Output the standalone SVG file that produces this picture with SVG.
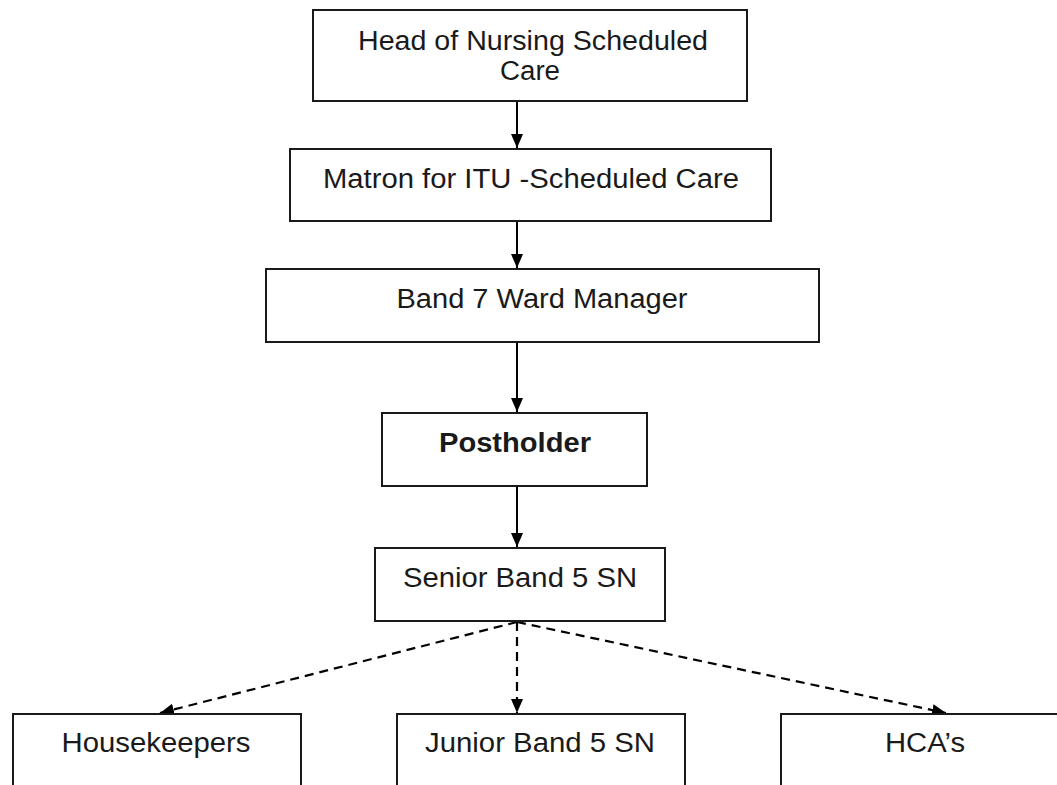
<svg xmlns="http://www.w3.org/2000/svg" width="1057" height="785" viewBox="0 0 1057 785">
  <style>
    .box { fill: #ffffff; stroke: #1a1a1a; stroke-width: 2; }
    .lbl { font-family: "Liberation Sans", Arial, sans-serif; font-size: 27px; fill: #1a1a1a; text-anchor: middle; }
    .bold { font-weight: bold; }
    .solid { stroke: #000; stroke-width: 2; fill: none; }
    .dash { stroke: #000; stroke-width: 2.2; fill: none; stroke-dasharray: 9 6; }
  </style>
  <defs>
    <marker id="arrow" viewBox="0 0 14 14" markerWidth="14" markerHeight="14" refX="14" refY="7" orient="auto" markerUnits="userSpaceOnUse">
      <path d="M0,1 L14,7 L0,13 z" fill="#000"/>
    </marker>
  </defs>
  <rect width="1057" height="785" fill="#ffffff"/>

  <g id="connectors">
    <line class="solid" x1="517" y1="102" x2="517" y2="148" marker-end="url(#arrow)"/>
    <line class="solid" x1="517" y1="222" x2="517" y2="268" marker-end="url(#arrow)"/>
    <line class="solid" x1="517" y1="342" x2="517" y2="412" marker-end="url(#arrow)"/>
    <line class="solid" x1="517" y1="487" x2="517" y2="547" marker-end="url(#arrow)"/>
    <line class="dash" x1="517" y1="622" x2="160" y2="713" marker-end="url(#arrow)"/>
    <line class="dash" x1="517" y1="622" x2="517" y2="713" marker-end="url(#arrow)"/>
    <line class="dash" x1="517" y1="622" x2="946" y2="713" marker-end="url(#arrow)"/>
  </g>

  <g id="head-of-nursing">
    <rect class="box" x="313" y="10" width="434" height="91"/>
    <text class="lbl" x="533" y="50" textLength="350" lengthAdjust="spacingAndGlyphs">Head of Nursing Scheduled</text>
    <text class="lbl" x="530" y="80" textLength="60" lengthAdjust="spacingAndGlyphs">Care</text>
  </g>

  <g id="matron">
    <rect class="box" x="290" y="149" width="481" height="72"/>
    <text class="lbl" x="531" y="188" textLength="416" lengthAdjust="spacingAndGlyphs">Matron for ITU -Scheduled Care</text>
  </g>

  <g id="band7">
    <rect class="box" x="266" y="269" width="553" height="73"/>
    <text class="lbl" x="542" y="308" textLength="291" lengthAdjust="spacingAndGlyphs">Band 7 Ward Manager</text>
  </g>

  <g id="postholder">
    <rect class="box" x="382" y="413" width="265" height="73"/>
    <text class="lbl bold" x="515" y="452" textLength="152" lengthAdjust="spacingAndGlyphs">Postholder</text>
  </g>

  <g id="senior-band5">
    <rect class="box" x="375" y="548" width="290" height="73"/>
    <text class="lbl" x="520" y="587" textLength="234" lengthAdjust="spacingAndGlyphs">Senior Band 5 SN</text>
  </g>

  <g id="housekeepers">
    <rect class="box" x="13" y="714" width="288" height="90"/>
    <text class="lbl" x="156" y="752" textLength="189" lengthAdjust="spacingAndGlyphs">Housekeepers</text>
  </g>

  <g id="junior-band5">
    <rect class="box" x="397" y="714" width="288" height="90"/>
    <text class="lbl" x="540" y="752" textLength="230" lengthAdjust="spacingAndGlyphs">Junior Band 5 SN</text>
  </g>

  <g id="hcas">
    <rect class="box" x="781" y="714" width="300" height="90"/>
    <text class="lbl" x="925" y="752" textLength="80" lengthAdjust="spacingAndGlyphs">HCA’s</text>
  </g>
</svg>
